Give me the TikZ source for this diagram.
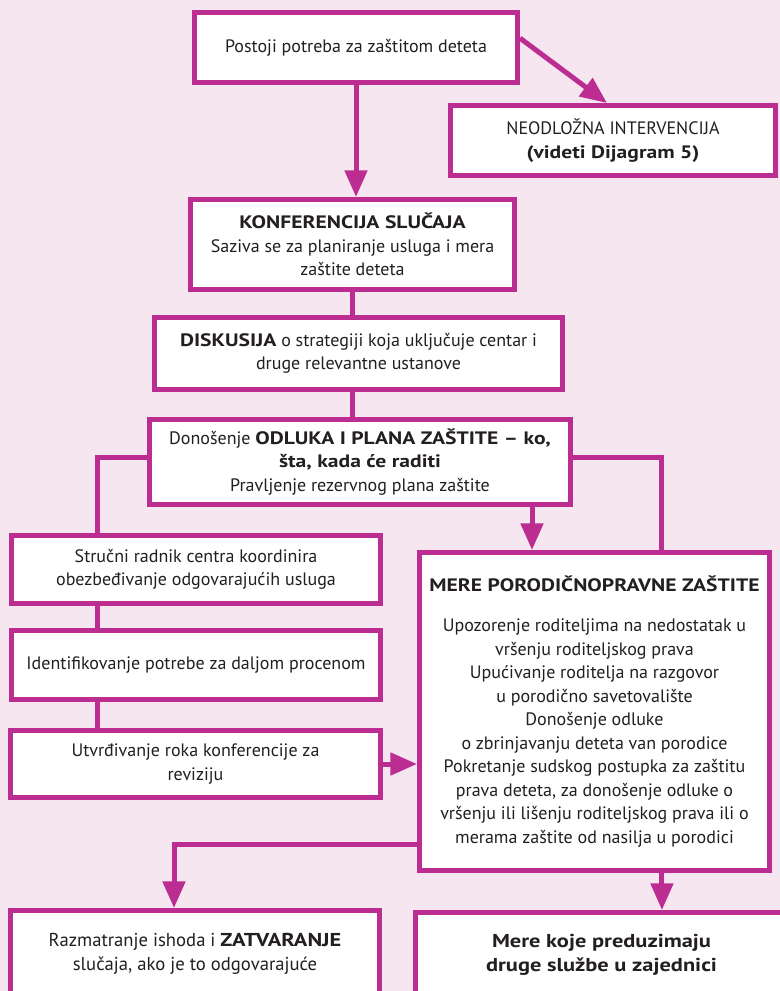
\documentclass[tikz,border=0pt]{standalone}
\usepackage{fontspec}
\setmainfont{PT Sans}[BoldFeatures={FakeStretch=1.2}]
\usetikzlibrary{arrows.meta}
\definecolor{zsMagenta}{HTML}{BB2D91}
\definecolor{zsPink}{HTML}{F5E6F0}
\definecolor{zsInk}{HTML}{231F20}
\tikzset{
  zs box/.style={draw=zsMagenta, fill=white, line width=3.75pt, inner sep=0pt, align=center, text=zsInk, font=\fontsize{13.5}{17.6}\selectfont},
  zs link/.style={draw=zsMagenta, line width=3.75pt},
  zs arrow/.style={zs link, -{Triangle[width=16.5pt,length=20pt]}},
}
\begin{document}
\begin{tikzpicture}[x=0.75pt,y=-0.75pt]
  \useasboundingbox (0,0) rectangle (780,991);
  \clip (0,0) rectangle (780,991);
  \fill[zsPink] (0,0) rectangle (780,991);
  % Top: need for protection and urgent intervention
  \node[zs box, minimum width=242.25pt, minimum height=52.5pt] (potreba) at (356,47.5) {Postoji potreba za zaštitom deteta};
  \node[zs box, minimum width=243.75pt, minimum height=52.5pt] (hitno) at (613,140.5) {NEODLOŽNA INTERVENCIJA\\\textbf{(videti Dijagram 5)}};
  % Middle column
  \node[zs box, minimum width=243pt, minimum height=67.5pt] (konferencija) at (352.5,244.5) {\textbf{KONFERENCIJA SLUČAJA}\\Saziva se za planiranje usluga i mera\\zaštite deteta};
  \node[zs box, minimum width=306pt, minimum height=54pt] (diskusija) at (358.5,353.5) {\textbf{DISKUSIJA} o strategiji koja uključuje centar i\\druge relevantne ustanove};
  \node[zs box, minimum width=315.75pt, minimum height=63.75pt] (odluka) at (360,462) {Donošenje \textbf{ODLUKA I PLANA ZAŠTITE – ko,}\\\textbf{šta, kada će raditi}\\Pravljenje rezervnog plana zaštite};
  % Left column
  \node[zs box, minimum width=276.75pt, minimum height=51pt] (strucni) at (196,569.5) {Stručni radnik centra koordinira\\obezbeđivanje odgovarajućih usluga};
  \node[zs box, minimum width=276.75pt, minimum height=51.75pt] (procena) at (196,665) {Identifikovanje potrebe za daljom procenom};
  \node[zs box, minimum width=277.5pt, minimum height=50.25pt] (revizija) at (195.5,764) {Utvrđivanje roka konferencije za\\reviziju};
  % Right column
  \node[zs box, minimum width=262.5pt, minimum height=238.5pt] (mere) at (594.5,711.5) {\textbf{MERE PORODIČNOPRAVNE ZAŠTITE}\\[12.5pt]Upozorenje roditeljima na nedostatak u\\vršenju roditeljskog prava\\Upućivanje roditelja na razgovor\\u porodično savetovalište\\Donošenje odluke\\o zbrinjavanju deteta van porodice\\Pokretanje sudskog postupka za zaštitu\\prava deteta, za donošenje odluke o\\vršenju ili lišenju roditeljskog prava ili o\\merama zaštite od nasilja u porodici};
  % Bottom row, cut by the page edge
  \node[zs box, minimum width=276.75pt, minimum height=65.25pt, font=\fontsize{14}{17.6}\selectfont] (zatvaranje) at (195,954) {Razmatranje ishoda i \textbf{ZATVARANJE}\\slučaja, ako je to odgovarajuće};
  \node[zs box, minimum width=279pt, minimum height=63.75pt, font=\bfseries\fontsize{14}{17.6}\selectfont] (sluzbe) at (601.5,955) {Mere koje preduzimaju\\druge službe u zajednici};
  % Connectors
  \draw[zs arrow] ([yshift=7pt]potreba.east) -- ([xshift=-4.5pt]hitno.north);
  \draw[zs arrow] (potreba.south) -- (potreba.south |- konferencija.north);
  \draw[zs link] (konferencija.south) -- (konferencija.south |- diskusija.north);
  \draw[zs link] (konferencija.south |- diskusija.south) -- (konferencija.south |- odluka.north);
  \draw[zs link] ([yshift=3.75pt]odluka.west) -| ([xshift=-74.25pt]strucni.north);
  \draw[zs link] ([xshift=-74.25pt]strucni.south) -- ([xshift=-74.25pt]procena.north);
  \draw[zs link] ([xshift=-74.25pt]procena.south) -- ([xshift=-74.25pt]procena.south |- revizija.north);
  \draw[zs arrow] (revizija.east) -- (revizija.east -| mere.west);
  \draw[zs arrow] ([xshift=129pt]odluka.south) -- ([xshift=129pt]odluka.south |- mere.north);
  \draw[zs link] ([yshift=3.75pt]odluka.east) -| ([xshift=50.6pt]mere.north);
  \draw[zs arrow] ([yshift=-100pt]mere.west) -| ([xshift=-15.75pt]zatvaranje.north);
  \draw[zs arrow] ([xshift=50.6pt]mere.south) -- ([xshift=50.6pt]mere.south |- sluzbe.north);
\end{tikzpicture}
\end{document}
